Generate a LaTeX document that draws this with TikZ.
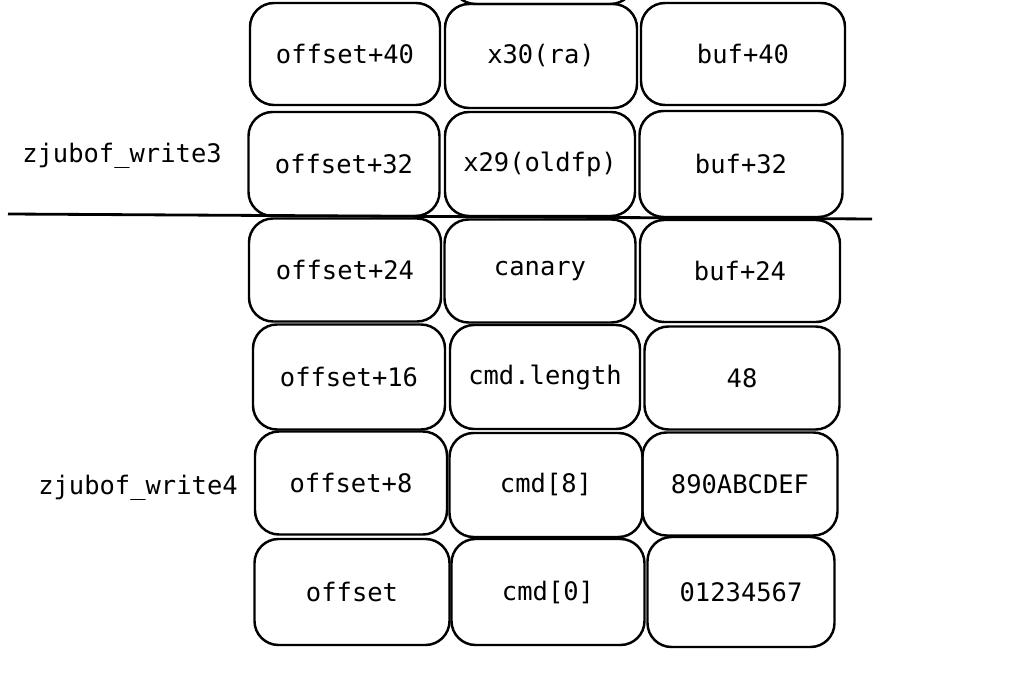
\documentclass[tikz,border=0pt]{standalone}
\usepackage{fontspec}
\usepackage{tikz}
\usetikzlibrary{positioning}
\newfontfamily\stackmono{DejaVu Sans Mono}

\begin{document}
\begin{tikzpicture}[
    x=0.02cm, y=-0.02cm,
    cell/.style 2 args={draw=black, rounded corners=0.48cm, line width=1.4pt, minimum width=#1*0.02cm, minimum height=#2*0.02cm, inner sep=0pt, font=\stackmono\fontsize{14.5}{17}\selectfont},
    frame/.style={font=\stackmono\fontsize{14.5}{17}\selectfont, inner sep=0pt},
    cutline/.style={line width=1.6pt, draw=black}
]
\clip (0,0) rectangle (1024,685);

% partial slot above the visible part
\node[cell={183}{104}] (r0c2) at (543,-48) {};

% zjubof_write3 frame
\node[cell={190}{102}] (r1c1) at (345,54) {offset+40};
\node[cell={192}{104}] (r1c2) at (541,56) {x30(ra)};
\node[cell={204}{102}] (r1c3) at (743,54) {buf+40};

\node[cell={191}{104}] (r2c1) at (344,164) {offset+32};
\node[cell={190}{104}] (r2c2) at (540,164) {x29(oldfp)};
\node[cell={203}{106}] (r2c3) at (741,164) {buf+32};

% zjubof_write4 frame
\node[cell={192}{103}] (r3c1) at (345,270) {offset+24};
\node[cell={191}{103}] (r3c2) at (540,271) {canary};
\node[cell={200}{102}] (r3c3) at (740,271) {buf+24};

\node[cell={192}{105}] (r4c1) at (349,377) {offset+16};
\node[cell={190}{104}] (r4c2) at (545,377) {cmd.length};
\node[cell={195}{103}] (r4c3) at (742,378) {48};

\node[cell={192}{103}] (r5c1) at (351,483) {offset+8};
\node[cell={193}{104}] (r5c2) at (546,485) {cmd[8]};
\node[cell={195}{103}] (r5c3) at (740,484) {890ABCDEF};

\node[cell={195}{106}] (r6c1) at (352,592) {offset};
\node[cell={193}{106}] (r6c2) at (548,592) {cmd[0]};
\node[cell={187}{110}] (r6c3) at (741,592) {01234567};

\node[frame] (fthree) at (122,156) {zjubof\_write3};
\node[frame] (ffour) at (138,488) {zjubof\_write4};

\coordinate (cutL) at (8,214);
\coordinate (cutR) at (872,219);
\draw[cutline] (cutL) -- (cutR);

\end{tikzpicture}
\end{document}
